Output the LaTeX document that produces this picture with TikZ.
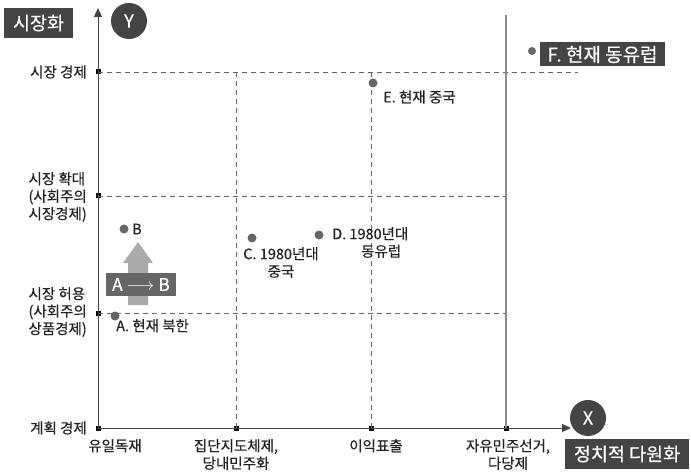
\documentclass[tikz,border=0pt]{standalone}
\usepackage{fontspec}
\setmainfont{Noto Sans CJK KR}[FakeBold=0.35]
\usetikzlibrary{arrows.meta}
\definecolor{txt}{HTML}{222222}
\definecolor{dark}{HTML}{444444}
\definecolor{mid}{HTML}{666666}
\definecolor{light}{HTML}{AAAAAA}
\definecolor{axisc}{HTML}{444444}
\definecolor{vline}{HTML}{8A8A8A}
\begin{document}
\begin{tikzpicture}[x=1pt,y=-1pt,
  lbl/.style={font=\fontsize{14.5}{17.5}\selectfont, text=txt, inner sep=0pt, align=center},
  ylbl/.style={lbl, anchor=east, align=left},
  darkbox/.style={fill=dark, text=white, font=\fontsize{18.5}{20}\selectfont, inner sep=0pt, minimum height=30pt},
  circ/.style={circle, fill=dark, text=white, font=\fontsize{18}{18}\selectfont, inner sep=0pt, minimum size=36pt},
  dot/.style={circle, fill=mid, inner sep=0pt, minimum size=9pt},
  tick/.style={fill=black, inner sep=0pt, minimum size=5pt},
  axisline/.style={draw=axisc, line width=1pt},
  dline/.style={draw=mid, line width=0.9pt, dash pattern=on 5pt off 4pt}]
\useasboundingbox (0,0) rectangle (691,473);

% coordinates
\coordinate (O) at (98,428);
\coordinate (Ytop) at (98,8);
\coordinate (Xend) at (571,428);
\coordinate (V4top) at (506,15);

% ticks
\node[tick] (y1) at (98,72) {};
\node[tick] (y2) at (98,196) {};
\node[tick] (y3) at (98,313) {};
\node[tick] (x0) at (98,428) {};
\node[tick] (x1) at (236,428) {};
\node[tick] (x2) at (371,428) {};
\node[tick] (x3) at (506,428) {};

\coordinate (h1end) at (578,72);
\coordinate (h2end) at (506,196);
\coordinate (h3end) at (506,313);
\coordinate (v1top) at (236,72);
\coordinate (v2top) at (371,72);

% dashed grid
\draw[dline] (y1.center) -- (h1end);
\draw[dline] (y2.center) -- (h2end);
\draw[dline] (y3.center) -- (h3end);
\draw[dline] (x1.center) -- (v1top);
\draw[dline] (x2.center) -- (v2top);
% solid vertical
\draw[draw=vline, line width=1.6pt] (x3.center) -- (V4top);

% axes
\draw[axisline, -{Triangle[length=9pt,width=8pt]}] (O) -- (Ytop);
\draw[axisline, -{Triangle[length=9pt,width=8pt]}] (O) -- (Xend);

% axis titles
\node[darkbox, minimum width=69pt] (ytitle) at (38.5,23) {시장화};
\node[circ] (ycirc) at (129,21) {Y};
\node[circ] (xcirc) at (588,418) {X};
\node[darkbox, minimum width=124pt] (xtitle) at (627,454) {정치적 다원화};

% y labels
\node[ylbl] (yl1) at (87,72) {시장 경제};
\node[ylbl] (yl2) at (87,197) {시장 확대\\(사회주의\\시장경제)};
\node[ylbl] (yl3) at (87,312) {시장 허용\\(사회주의\\상품경제)};
\node[ylbl] (yl4) at (87,428) {계획 경제};

% x labels
\node[lbl, anchor=north] (xl0) at (115,439) {유일독재};
\node[lbl, anchor=north] (xl1) at (236,439) {집단지도체제,\\당내민주화};
\node[lbl, anchor=north] (xl2) at (376,439) {이익표출};
\node[lbl, anchor=north] (xl3) at (508,439) {자유민주선거,\\다당제};

% big arrow A -> B
\fill[light] (128,305) -- (128,263) -- (123,263) -- (138,242) -- (153,263) -- (148,263) -- (148,305) -- cycle;
\node[fill=mid, text=white, minimum width=70pt, minimum height=23pt, inner sep=0pt,
      font=\fontsize{17.5}{17.5}\selectfont] (ab) at (141,284.5) {A $\longrightarrow$ B};

% points
\node[dot] (A) at (115,316) {};
\node[lbl, anchor=north west] (Al) at (116,319) {A. 현재 북한};
\node[dot] (B) at (124,229) {};
\node[lbl, anchor=west] (Bl) at (132,229) {B};
\node[dot] (C) at (252,238) {};
\node[lbl, anchor=north] (Cl) at (281,247) {C. 1980년대\\중국};
\node[dot] (D) at (319,235) {};
\node[lbl, anchor=north west] (Dl) at (332,227) {D. 1980년대\\\hspace*{1.5em}동유럽};
\node[dot] (E) at (373,83) {};
\node[lbl, anchor=west] (El) at (383,97) {E. 현재 중국};
\node[dot, minimum size=8pt] (F) at (532,51) {};
\node[fill=dark, text=white, font=\fontsize{19}{19}\selectfont, inner sep=0pt,
      minimum width=125pt, minimum height=24pt] (Fl) at (602.5,54.5) {F. 현재 동유럽};
\end{tikzpicture}
\end{document}
